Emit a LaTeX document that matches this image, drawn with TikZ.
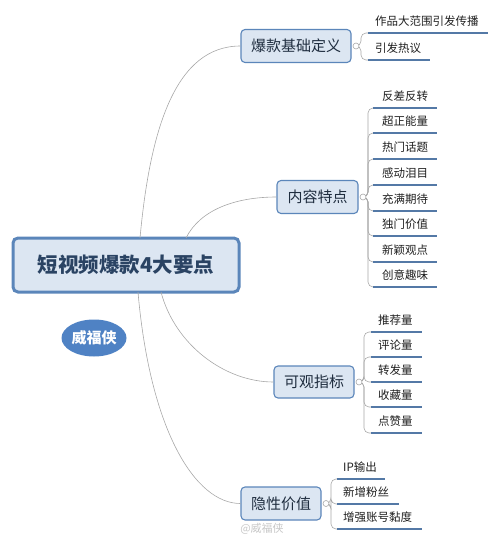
\documentclass[tikz,border=0pt]{standalone}
\usepackage{fontspec}
\setmainfont{Noto Sans CJK SC}
\usetikzlibrary{shapes.geometric}
\definecolor{boxfill}{HTML}{DCE6F2}
\definecolor{boxdraw}{HTML}{5B86BA}
\definecolor{maintext}{HTML}{2A4363}
\definecolor{brtext}{HTML}{1F2D3F}
\definecolor{uline}{HTML}{5479A6}
\definecolor{conngray}{HTML}{A8A8A8}
\definecolor{ellfill}{HTML}{4F82C4}
\tikzset{
  mainbox/.style={draw=boxdraw, line width=3pt, fill=boxfill, rounded corners=5pt,
    minimum width=226pt, minimum height=54pt, inner sep=0pt,
    font=\fontsize{20.5}{22}\selectfont\bfseries, text=maintext},
  brbox/.style={draw=boxdraw, line width=1.1pt, fill=boxfill, rounded corners=4pt,
    minimum height=33pt, inner sep=0pt, font=\fontsize{15}{17}\selectfont, text=brtext},
  knob/.style={circle, draw=conngray, fill=white, line width=0.6pt, minimum size=6pt, inner sep=0pt},
  leaf/.style={anchor=west, inner sep=0pt, font=\fontsize{11.5}{13}\selectfont, text=black!88},
  ul/.style={draw=uline, line width=1.6pt},
  conn/.style={draw=conngray, line width=0.6pt},
  sub/.style={draw=conngray, line width=0.6pt, rounded corners=5pt},
}
\begin{document}
\begin{tikzpicture}[x=1pt,y=-1pt]
\useasboundingbox (0,0) rectangle (500,541);
\node[mainbox] (main) at (126,265) {短视频爆款4大要点};
\node[brbox, minimum width=110pt] (b1) at (296,46) {爆款基础定义};
\node[brbox, minimum width=81pt] (b2) at (317.5,197) {内容特点};
\node[brbox, minimum width=80pt, minimum height=32pt] (b3) at (314,382) {可观指标};
\node[brbox, minimum width=80pt] (b4) at (281,503.5) {隐性价值};
\coordinate (m1) at (140,238);
\coordinate (m2) at (186,238);
\coordinate (m3) at (161,292);
\coordinate (m4) at (138,292);
\draw[conn] (m1) .. controls (150,130) and (175,46) .. (b1.west);
\draw[conn] (m2) .. controls (200,210) and (235,197) .. (b2.west);
\draw[conn] (m3) .. controls (175,345) and (225,382) .. (b3.west);
\draw[conn] (m4) .. controls (150,430) and (195,503.5) .. (b4.west);

\node[ellipse, fill=ellfill, minimum width=65pt, minimum height=37pt, inner sep=0pt,
  text=white, font=\fontsize{15}{17}\selectfont\bfseries] (sig) at (94,338) {威福侠};

% ---- branch 1
\foreach \y/\e/\t [count=\i] in {33/488/作品大范围引发传播, 60/430/引发热议}{
  \coordinate (u1s\i) at (368,\y);
  \coordinate (u1e\i) at (\e,\y);
  \draw[sub] (356,46) -- ++(5,0) |- (u1s\i);
  \draw[ul] (u1s\i) -- (u1e\i);
  \node[leaf] (t1\i) at (375,\y-11.5) {\t};
}
\node[knob] (k1) at (356,46) {};

% ---- branch 2
\foreach \y/\t [count=\i] in {108/反差反转,133/超正能量,159/热门话题,185/感动泪目,211/充满期待,236/独门价值,262/新颖观点,287/创意趣味}{
  \coordinate (u2s\i) at (373,\y);
  \coordinate (u2e\i) at (437,\y);
  \draw[sub] (363,197) -- ++(5,0) |- (u2s\i);
  \draw[ul] (u2s\i) -- (u2e\i);
  \node[leaf] (t2\i) at (382,\y-11.5) {\t};
}
\node[knob] (k2) at (363,197) {};

% ---- branch 3
\foreach \y/\t [count=\i] in {332/推荐量,357/评论量,382/转发量,407/收藏量,433/点赞量}{
  \coordinate (u3s\i) at (371,\y);
  \coordinate (u3e\i) at (422,\y);
  \draw[sub] (359,382) -- ++(5,0) |- (u3s\i);
  \draw[ul] (u3s\i) -- (u3e\i);
  \node[leaf] (t3\i) at (378,\y-11.5) {\t};
}
\node[knob] (k3) at (359,382) {};

% ---- branch 4
\foreach \y/\e/\t [count=\i] in {479/385/IP输出,504/399/新增粉丝,529/422/增强账号黏度}{
  \coordinate (u4s\i) at (337,\y);
  \coordinate (u4e\i) at (\e,\y);
  \draw[sub] (326,503.5) -- ++(5,0) |- (u4s\i);
  \draw[ul] (u4s\i) -- (u4e\i);
  \node[leaf] (t4\i) at (343,\y-11.5) {\t};
}
\node[knob] (k4) at (326,503.5) {};

% watermark
\node[inner sep=0pt, text=black!22, font=\fontsize{11}{13}\selectfont] (wm) at (262,529) {@威福侠};
\end{tikzpicture}
\end{document}
